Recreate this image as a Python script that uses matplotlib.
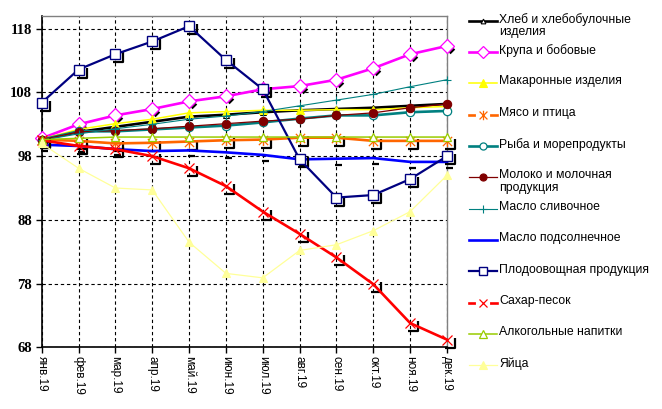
import matplotlib
matplotlib.use("Agg")
import matplotlib.pyplot as plt
from matplotlib.path import Path
from matplotlib.lines import Line2D
import numpy as np

months = ["янв.19", "фев.19", "мар.19", "апр.19", "май.19", "июн.19",
          "июл.19", "авг.19", "сен.19", "окт.19", "ноя.19", "дек.19"]

khleb = [100.6, 101.8, 102.6, 103.4, 104.2, 104.5, 104.9, 105.2, 105.4, 105.6, 105.9, 106.2]
krupa = [100.8, 103.0, 104.4, 105.4, 106.6, 107.4, 108.5, 109.0, 110.0, 111.8, 114.0, 115.3]
makaron = [100.7, 102.2, 103.1, 103.8, 104.8, 105.0, 105.2, 105.2, 105.3, 105.3, 105.6, 105.8]
myaso = [100.6, 100.4, 100.0, 100.1, 100.3, 100.5, 100.6, 100.9, 100.9, 100.4, 100.4, 100.4]
ryba = [100.6, 101.9, 101.9, 102.2, 102.5, 102.8, 103.3, 103.9, 104.4, 104.4, 104.9, 105.1]
moloko = [100.6, 101.8, 102.0, 102.3, 102.7, 103.1, 103.5, 103.8, 104.4, 104.8, 105.6, 106.2]
maslo_sliv = [100.5, 101.5, 102.3, 103.0, 103.8, 104.3, 105.0, 105.9, 106.8, 107.7, 108.9, 110.0]
maslo_pods = [99.8, 99.6, 99.1, 98.8, 98.9, 98.6, 98.2, 97.5, 97.6, 97.7, 97.1, 97.1]
plodo = [106.4, 111.6, 114.0, 116.0, 118.4, 113.1, 108.5, 97.5, 91.5, 91.9, 94.4, 98.0]
sakhar = [100.5, 99.6, 99.1, 98.0, 96.1, 93.3, 89.3, 85.8, 82.1, 77.9, 71.8, 69.2]
alko = [100.6, 100.8, 101.0, 101.0, 101.0, 101.0, 101.0, 101.0, 101.0, 101.0, 101.0, 101.0]
yaitsa = [100.0, 96.1, 93.0, 92.7, 84.5, 79.6, 78.9, 83.2, 84.1, 86.3, 89.3, 95.0]

labels = ["Хлеб и хлебобулочные\nизделия", "Крупа и бобовые", "Макаронные изделия",
          "Мясо и птица", "Рыба и морепродукты", "Молоко и молочная\nпродукция",
          "Масло сливочное", "Масло подсолнечное", "Плодоовощная продукция",
          "Сахар-песок", "Алкогольные напитки", "Яйца"]
yticks = [68, 78, 88, 98, 108, 118]

series = [khleb, krupa, makaron, myaso, ryba, moloko, maslo_sliv, maslo_pods,
          plodo, sakhar, alko, yaitsa]

star_path = Path([(-1, 1), (1, -1), (-1, -1), (1, 1), (0, 1.2), (0, -1.2)],
                 [Path.MOVETO, Path.LINETO, Path.MOVETO, Path.LINETO, Path.MOVETO, Path.LINETO])

styles = [
    dict(color="#000000", lw=1.9, marker="^", ms=4, mfc="white", mec="black", mew=0.8),
    dict(color="#FF00FF", lw=1.9, marker="D", ms=7, mfc="white", mec="#FF00FF", mew=0.9),
    dict(color="#FFFF00", lw=1.1, marker="^", ms=6, mfc="#FFFF00", mec="#FFFF00", mew=0.8),
    dict(color="#FF6600", lw=1.9, marker=star_path, ms=8, mfc="#FF6600", mec="#FF6600", mew=0.9),
    dict(color="#008080", lw=1.9, marker="o", ms=6, mfc="white", mec="#008080", mew=0.9),
    dict(color="#800000", lw=0.9, marker="o", ms=6, mfc="#800000", mec="#800000", mew=0.8),
    dict(color="#008080", lw=0.8, marker="+", ms=6, mfc="#008080", mec="#008080", mew=0.8),
    dict(color="#0000FF", lw=1.9, marker="None"),
    dict(color="#000080", lw=1.6, marker="s", ms=7, mfc="white", mec="#000080", mew=1.0),
    dict(color="#FF0000", lw=1.9, marker="x", ms=7, mfc="#FF0000", mec="#FF0000", mew=0.9),
    dict(color="#99CC00", lw=1.1, marker="^", ms=6, mfc="white", mec="#99CC00", mew=0.9),
    dict(color="#FFFF99", lw=0.9, marker="^", ms=6, mfc="#FFFF99", mec="#FFFF99", mew=0.8),
]

L_path = Path([(1.67, 0.33), (1.67, -1.67), (-0.33, -1.67)],
              [Path.MOVETO, Path.LINETO, Path.LINETO])
D_path = Path([(1.5, -0.5), (0.5, -1.5)], [Path.MOVETO, Path.LINETO])
dash_path = Path([(-0.2, -1.0), (1.0, -1.0)], [Path.MOVETO, Path.LINETO])
shadows = {1: (D_path, 10), 3: (L_path, 11), 7: (dash_path, 8), 8: (L_path, 11.5), 9: (L_path, 11.5)}

plt.rcParams['font.family'] = ['Liberation Sans', 'DejaVu Sans']
fig = plt.figure(figsize=(6.62, 4.09), dpi=100)
ax = fig.add_axes([41.7/662, 1 - 347.3/409, (447 - 41.7)/662, (347.3 - 16)/409])

x = np.arange(len(months))
for i, (vals, st) in enumerate(zip(series, styles)):
    z = 3 + i * 0.1
    if i in shadows:
        p, ms = shadows[i]
        ax.plot(x, vals, linestyle="None", marker=p, ms=ms, mec="black", mfc="none",
                mew=1.6, zorder=z - 0.05, clip_on=False)
    ax.plot(x, vals, color=st["color"], lw=st["lw"], marker=st.get("marker"),
            ms=st.get("ms", 0), mfc=st.get("mfc"), mec=st.get("mec"), mew=st.get("mew", 1),
            zorder=z, clip_on=False)

ax.set_xlim(0, 11)
ax.set_ylim(68, 120)
ax.set_yticks(yticks)
ax.set_yticklabels([str(t) for t in yticks], fontfamily="Liberation Serif",
                   fontweight="bold", fontsize=10.5)
ax.set_xticks(x)
ax.set_xticklabels(months, rotation=270, fontsize=8.5, va="top", ha="center")
ax.tick_params(axis="both", direction="out", length=4, width=1, color="black", pad=2)
ax.tick_params(axis="y", pad=3)
ax.grid(True, color="black", linestyle=(0, (3, 2.5)), lw=0.8)
ax.set_axisbelow(True)
for s in ["top", "right"]:
    ax.spines[s].set_color("#808080")
    ax.spines[s].set_linewidth(1.0)
for s in ["left", "bottom"]:
    ax.spines[s].set_color("black")
    ax.spines[s].set_linewidth(1.2)

# legend
W, H = 662, 409
for i, (lab, st) in enumerate(zip(labels, styles)):
    ypx = 20.5 + i * 31.35
    yf = 1 - ypx / H
    ln = Line2D([469/W, 497/W], [yf, yf], transform=fig.transFigure, color=st["color"],
                lw=st["lw"])
    fig.add_artist(ln)
    if st.get("marker") not in (None, "None"):
        if i in (3, 9):
            bg = Line2D([478/W, 488/W], [yf, yf], transform=fig.transFigure, color="white", lw=3)
            fig.add_artist(bg)
        mk = Line2D([483/W], [yf], transform=fig.transFigure, linestyle="None",
                    marker=st["marker"], ms=st["ms"] * 0.85, mfc=st["mfc"], mec=st["mec"],
                    mew=st.get("mew", 1))
        fig.add_artist(mk)
    fig.text(499/W, 1 - (ypx - 7.8)/H, lab, fontsize=8.8, va="top", ha="left",
             color="black", linespacing=1.05)

fig.savefig("out.png", dpi=100)
